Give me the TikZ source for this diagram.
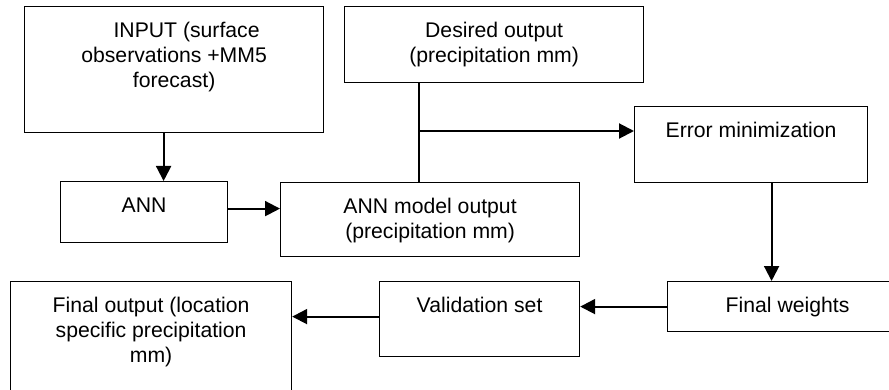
\documentclass[tikz,border=0pt]{standalone}
\usepackage{fontspec}
\setmainfont{Liberation Sans}
\usetikzlibrary{arrows.meta}

% text block of a box: width and height in pixels, text hangs from the top
\newcommand{\boxlbl}[3]{\parbox[c][\dimexpr#2pt/2\relax][t]{\dimexpr#1pt/2\relax}{\centering\rule{0pt}{15.5pt}#3}}

\tikzset{
  box/.style={draw, line width=0.6pt, inner sep=0pt, anchor=north west,
              font=\fontsize{10.6}{12.5}\selectfont},
  arr/.style={line width=1pt, -{Triangle[length=7.5pt,width=7.5pt]}},
  link/.style={line width=1pt}
}

\begin{document}
\begin{tikzpicture}[x=0.5pt, y=-0.5pt]
        % ===== FRAME (889 x 390 px) =====
        \useasboundingbox (0,0) rectangle (889,390);
        \clip (0,0) rectangle (889,390);

        % ===== TOP ROW =====
        \node[box] (input) at (24,6)
            {\boxlbl{299}{126}{\hspace*{12.5pt}INPUT (surface\\ observations +MM5\\ forecast)}};
        \node[box] (desired) at (344,6)
            {\boxlbl{299}{76}{Desired output\\ (precipitation mm)}};
        \node[box] (errmin) at (634,106)
            {\boxlbl{233}{76}{Error minimization}};

        % ===== MIDDLE ROW =====
        \node[box] (ann) at (60,181) {\boxlbl{167}{61}{ANN}};
        \node[box] (model) at (280,182)
            {\boxlbl{299}{74}{ANN model output\\ (precipitation mm)}};

        % ===== BOTTOM ROW =====
        \node[box] (final) at (10,281)
            {\boxlbl{281}{130}{Final output (location\\ specific precipitation\\ mm)}};
        \node[box] (valid) at (379,281) {\boxlbl{200}{75}{Validation set}};
        \node[box] (weights) at (667,281) {\boxlbl{240}{50}{Final weights}};

        % ===== CONNECTORS =====
        \draw[arr] ([xshift=9.75pt]ann.north |- input.south) -- ([xshift=9.75pt]ann.north);
        \draw[arr] ([yshift=1.75pt]ann.east) -- ([yshift=1.75pt]ann.east -| model.west);

        % desired output meets model output, branch to error minimization
        \coordinate (tap) at (419,131);
        \draw[link] (tap |- desired.south) -- (tap |- model.north);
        \draw[arr] (tap) -- (tap -| errmin.west);

        \draw[arr] ([xshift=10.25pt]errmin.south) -- ([xshift=10.25pt]errmin.south |- weights.north);
        \draw[arr] (weights.west) -- (weights.west -| valid.east);
        \draw[arr] ([yshift=1.25pt]valid.west) -- ([yshift=1.25pt]valid.west -| final.east);
\end{tikzpicture}
\end{document}
